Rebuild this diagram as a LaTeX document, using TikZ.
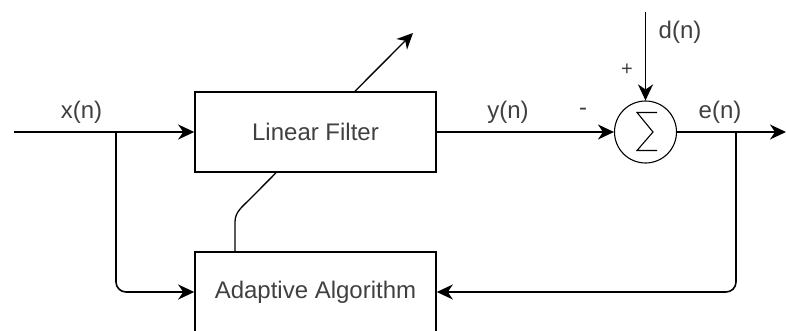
\documentclass[tikz,border=0pt]{standalone}
\usepackage{fontspec}
\setmainfont{Liberation Sans}
\usetikzlibrary{arrows.meta}
\begin{document}
\begin{tikzpicture}[x=1pt,y=-1pt,
  >={Stealth[length=16pt,width=15pt,inset=5pt]},
  wire/.style={line width=1.6pt},
  block/.style={draw, line width=1.6pt, minimum width=241pt, minimum height=80pt,
    inner sep=0pt, font=\fontsize{24}{28}\selectfont, text=black!75},
  lbl/.style={font=\fontsize{24}{28}\selectfont, text=black!75, inner sep=0pt},
  sumcirc/.style={draw, circle, line width=1.1pt, minimum size=62pt, inner sep=0pt},
]
\useasboundingbox (0,0) rectangle (786,331);
\clip (0,0) rectangle (786,331);

% blocks
\node[block] (lf) at (315.5,132) {Linear Filter};
\node[block] (aa) at (315.5,292) {Adaptive Algorithm};

% summing junction
\node[sumcirc] (sum) at (645.5,132) {};
\begin{scope}[shift={(sum.center)}]
  \draw[line width=1.1pt, line join=miter]
    (11.5,-19.5) -- (-8.5,-19.5) -- (7.5,0) -- (-8.5,18.5) -- (11.5,18.5);
\end{scope}

% free ends and branch points
\coordinate (xin)  at (14,132);
\coordinate (xbr)  at (116,132);
\coordinate (dtop) at (645.5,12);
\coordinate (eout) at (786,132);
\coordinate (ebr)  at (736,132);
\coordinate (adjtip) at (413,33);

% signal paths
\draw[wire,->] (xin) -- (lf.west);
\draw[wire,->,rounded corners=10pt] (xbr) |- (aa.west);
\draw[wire,->] (lf.east) -- (sum.west);
\draw[wire,->] (dtop) -- (sum.north);
\draw[wire,->] (sum.east) -- (eout);
\draw[wire,->,rounded corners=10pt] (ebr) |- (aa.east);

% adaptation arrow through the filter
\draw[line width=1.3pt,->] ([xshift=39.5pt]lf.north) -- (adjtip);
\draw[line width=1.3pt] ([xshift=-80.5pt]aa.north) -- (235,222)
  .. controls (235,212) and (242,207) .. (250,199) -- ([xshift=-39.5pt]lf.south);

% labels
\node[lbl] (xl) at (81.5,112) {x(n)};
\node[lbl] (yl) at (508,112) {y(n)};
\node[lbl] (minus) at (583,112) {-};
\node[lbl] (el) at (720,112) {e(n)};
\node[lbl] (dl) at (680,32) {d(n)};
\node[lbl, font=\fontsize{20}{24}\selectfont] (plus) at (627,70) {+};
\end{tikzpicture}
\end{document}
